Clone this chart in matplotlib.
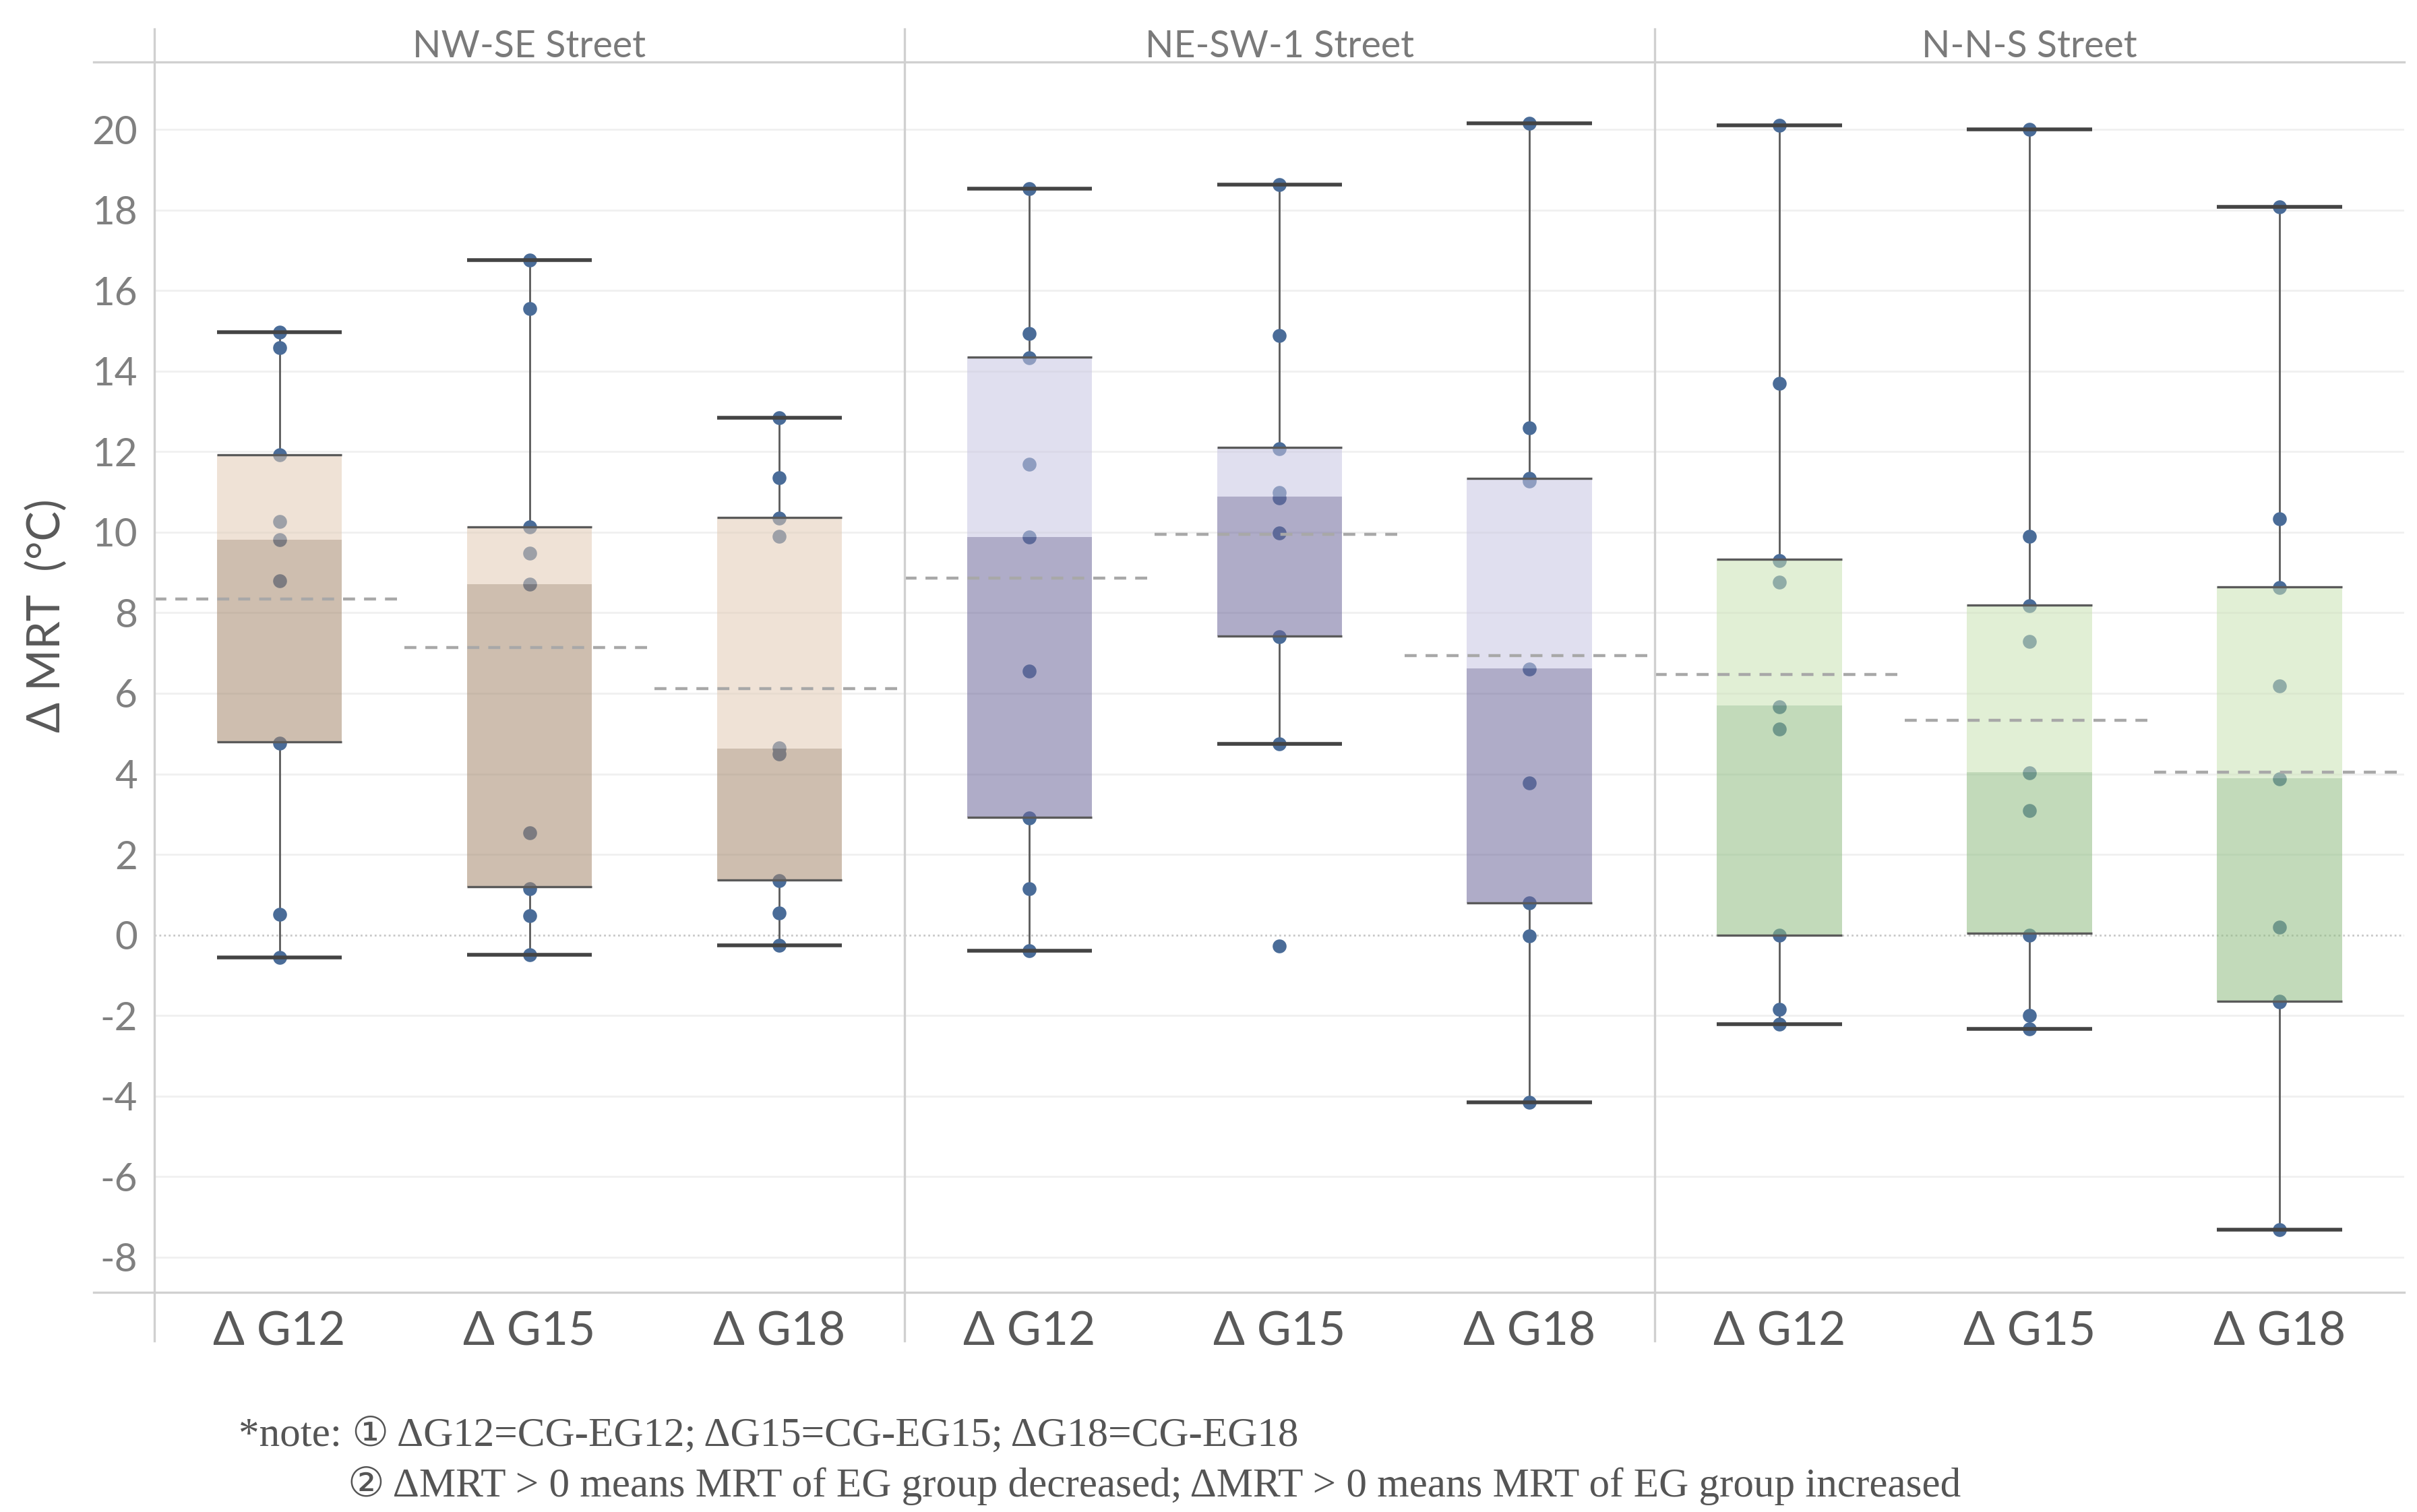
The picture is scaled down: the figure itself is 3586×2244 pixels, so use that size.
import numpy as np
import matplotlib.pyplot as plt
from matplotlib.lines import Line2D

streets = ['NW-SE Street', 'NE-SW-1 Street', 'N-N-S Street']
groups = ['\u0394 G12', '\u0394 G15', '\u0394 G18']

# individual samples per street, one list per group
pts_nwse = [[-0.56, 0.52, 4.76, 8.79, 9.82, 10.27, 11.92, 14.58, 14.96],
            [-0.49, 0.48, 1.15, 2.54, 8.71, 9.48, 10.14, 15.56, 16.76],
            [-0.26, 0.55, 1.35, 4.5, 4.65, 9.9, 10.35, 11.35, 12.84]]
pts_nesw = [[-0.4, 1.15, 2.9, 6.55, 9.89, 11.69, 14.33, 14.93, 18.54],
            [-0.28, 4.74, 7.4, 9.99, 10.86, 10.99, 12.07, 14.89, 18.63],
            [-4.15, -0.02, 0.8, 3.78, 6.6, 11.27, 11.33, 12.59, 20.16]]
pts_nns = [[-2.22, -1.84, 0.0, 5.12, 5.66, 8.76, 9.3, 13.7, 20.11],
           [-2.34, -2.0, 0.0, 3.09, 4.02, 7.28, 8.17, 9.9, 20.0],
           [-7.32, -1.67, -1.65, 0.19, 3.88, 6.18, 8.62, 10.33, 18.08]]

# box stats (whisker low, Q1, median, Q3, whisker high)
lo_nwse = [-0.56, -0.49, -0.26]
q1_nwse = [4.8, 1.2, 1.37]
med_nwse = [9.82, 8.71, 4.62]
q3_nwse = [11.92, 10.14, 10.36]
hi_nwse = [14.96, 16.76, 12.84]

lo_nesw = [-0.4, 4.74, -4.15]
q1_nesw = [2.92, 7.42, 0.8]
med_nesw = [9.89, 10.88, 6.62]
q3_nesw = [14.35, 12.1, 11.33]
hi_nesw = [18.54, 18.63, 20.16]

lo_nns = [-2.21, -2.34, -7.32]
q1_nns = [0.0, 0.04, -1.65]
med_nns = [5.7, 4.05, 3.9]
q3_nns = [9.33, 8.2, 8.65]
hi_nns = [20.11, 20.0, 18.08]

# average reference lines
mean_nwse = [8.35, 7.13, 6.12]
mean_nesw = [8.86, 9.95, 6.93]
mean_nns = [6.47, 5.33, 4.05]

panels = [
    (pts_nwse, lo_nwse, q1_nwse, med_nwse, q3_nwse, hi_nwse, mean_nwse, '#A6896E', '#E2CBB5'),
    (pts_nesw, lo_nesw, q1_nesw, med_nesw, q3_nesw, hi_nesw, mean_nesw, '#6D689B', '#C8C6E2'),
    (pts_nns, lo_nns, q1_nns, med_nns, q3_nns, hi_nns, mean_nns, '#90BD82', '#CAE2B4'),
]

plt.rcParams['font.family'] = ['Lato', 'DejaVu Sans']
plt.rcParams['axes.unicode_minus'] = False

fig = plt.figure(figsize=(17.93, 11.22), dpi=200)

left, pw = 0.0639, 0.3103
bot, top = 0.1454, 0.9588
ymin, ymax = -8.87, 21.67
axes = []
for k, (pts, lo, q1, med, q3, hi, mn, dark, light) in enumerate(panels):
    ax = fig.add_axes([left + k * pw, bot, pw, top - bot])
    axes.append(ax)
    ax.set_xlim(0, 3)
    ax.set_ylim(ymin, ymax)
    for s in ax.spines.values():
        s.set_visible(False)
    ax.set_yticks(np.arange(-8, 21, 2))
    for yv in np.arange(-8, 21, 2):
        if yv == 0:
            ax.axhline(0, color='#C8C8C8', lw=1.0, ls=(0, (1, 1.5)), zorder=0.5)
        else:
            ax.axhline(yv, color='#F0F0F0', lw=1.0, zorder=0.5)
    x = np.arange(3) + 0.5
    w = 0.5
    # whiskers outside the box
    ax.vlines(x, lo, q1, color='#5a5a5a', lw=1.0, zorder=1.5)
    ax.vlines(x, q3, hi, color='#5a5a5a', lw=1.0, zorder=1.5)
    ax.hlines(lo, x - w / 2, x + w / 2, color='#444444', lw=2.0, zorder=4)
    ax.hlines(hi, x - w / 2, x + w / 2, color='#444444', lw=2.0, zorder=4)
    # points
    for i, p in enumerate(pts):
        ax.scatter(np.full(len(p), x[i]), p, s=55, color='#4A6C98', zorder=2, linewidths=0)
    # two-tone boxes
    ax.bar(x, np.array(med) - np.array(q1), bottom=q1, width=w, color=dark, alpha=0.55, zorder=3)
    ax.bar(x, np.array(q3) - np.array(med), bottom=med, width=w, color=light, alpha=0.55, zorder=3)
    ax.hlines(q1, x - w / 2, x + w / 2, color='#5a5a5a', lw=1.2, zorder=4)
    ax.hlines(q3, x - w / 2, x + w / 2, color='#5a5a5a', lw=1.2, zorder=4)
    # average lines
    ax.hlines(mn, x - 0.5, x + 0.5, color='#A8A8A8', lw=1.6, ls=(0, (4, 3)), zorder=4)

    ax.set_xticks(x)
    ax.set_xticklabels(groups, fontsize=25, color='#595959')
    ax.tick_params(axis='x', length=0, pad=10)
    if k == 0:
        ax.tick_params(axis='y', length=0, pad=9, labelsize=21, labelcolor='#808080')
    else:
        ax.tick_params(axis='y', length=0, labelleft=False)
    fig.text(left + (k + 0.5) * pw, 0.969, streets[k], ha='center', va='center',
             fontsize=20, color='#7a7a7a')

# frame lines spanning the whole figure header / footer
line_c = '#D0D0D0'
xr = left + 3 * pw
fig.add_artist(Line2D([0.0387, xr], [top, top], color=line_c, lw=1.2, transform=fig.transFigure))
fig.add_artist(Line2D([0.0387, xr], [bot, bot], color=line_c, lw=1.2, transform=fig.transFigure))
for k in range(3):
    xx = left + k * pw
    fig.add_artist(Line2D([xx, xx], [0.113, 0.981], color=line_c, lw=1.2, transform=fig.transFigure))

fig.text(0.0194, 0.593, '\u0394 MRT  (\u00b0C)', rotation=90, ha='center', va='center',
         fontsize=24, color='#595959')

note_font = ['Liberation Serif', 'DejaVu Sans']
fig.text(0.0987, 0.0505, '*note: \u2460 \u0394G12=CG-EG12; \u0394G15=CG-EG15; \u0394G18=CG-EG18',
         ha='left', va='center', fontsize=22, color='#555555', family=note_font)
fig.text(0.1439, 0.0175, '\u2461 \u0394MRT > 0 means MRT of EG group decreased; \u0394MRT > 0 means MRT of EG group increased',
         ha='left', va='center', fontsize=22, color='#555555', family=note_font)

fig.savefig('out.png', dpi=200, facecolor='white')
